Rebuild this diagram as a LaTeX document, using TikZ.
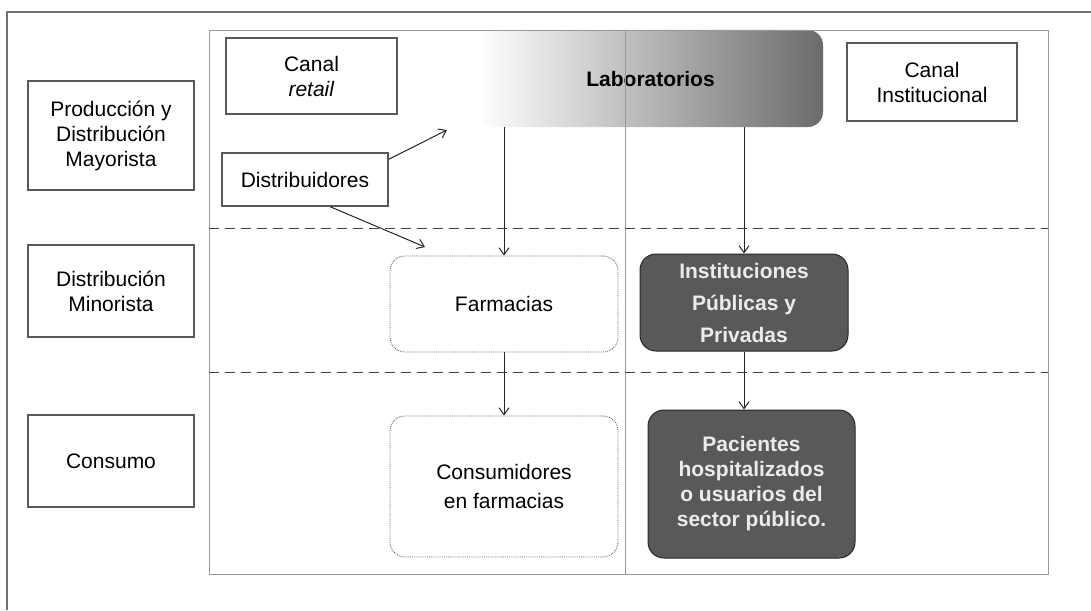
\documentclass[tikz,border=0pt]{standalone}
\usepackage{fontspec}
\setmainfont{Liberation Sans}
\usepackage{xcolor}
\usetikzlibrary{arrows.meta}

\begin{document}
\begin{tikzpicture}[x=1pt, y=-1pt,
    >={Straight Barb[length=7pt,width=10pt]},
    txt/.style={font=\fontsize{21}{25}\selectfont, align=center, inner sep=0pt},
    levelbox/.style={txt, draw=black!65, line width=1.3pt},
    canalbox/.style={txt, draw=black!65, line width=1.3pt},
    softbox/.style={txt, draw=black!60, densely dotted, line width=0.9pt, rounded corners=15pt},
    darkbox/.style={txt, fill=black!65, draw=black!85, line width=1pt, rounded corners=16pt,
        text=white!92!black, font=\fontsize{21}{25}\selectfont\bfseries},
    region/.style={draw=black!40, line width=0.8pt},
    level/.style={draw=black!75, dashed, dash pattern=on 10pt off 6pt, line width=1pt},
    flow/.style={->, draw=black!85, line width=1pt}]
    \useasboundingbox (0,0) rectangle (1091,610);
    % frame
    \draw[black!55, line width=2pt] (7,610) -- (7,12) -- (1091,12);

    \node[txt, minimum width=345pt, minimum height=97pt, rounded corners=15pt,
        left color=white, middle color=black!18, right color=black!58,
        font=\fontsize{21}{25}\selectfont\bfseries]
        (lab) at (650.5,78.5) {Laboratorios};

    % region and levels
    \draw[region] (209,30) rectangle (1048,574);
    \draw[region] (625,30) -- (625,574);
    \draw[level] (209,228) -- (1048,228);
    \draw[level] (209,372) -- (1048,372);

    % levels
    \node[levelbox, minimum width=166pt, minimum height=109pt] (prod) at (111,135.5)
        {Producción y\\Distribución\\Mayorista};
    \node[levelbox, minimum width=166pt, minimum height=92pt] (mino) at (111,291)
        {Distribución\\Minorista};
    \node[levelbox, minimum width=166pt, minimum height=92pt] (cons) at (111,461)
        {Consumo};

    % channels
    \node[canalbox, minimum width=171pt, minimum height=76pt] (retail) at (311.5,76)
        {Canal\\\textit{retail}};
    \node[canalbox, minimum width=170pt, minimum height=78pt] (instit) at (932,82)
        {Canal\\Institucional};
    \node[canalbox, minimum width=166pt, minimum height=53pt] (dist) at (305,179.5)
        {Distribuidores};

    \node[softbox, minimum width=228pt, minimum height=96pt] (farm) at (504,304)
        {Farmacias};
    \node[softbox, minimum width=228pt, minimum height=141pt, font=\fontsize{21}{29}\selectfont]
        (consf) at (504,486.5) {Consumidores\\en farmacias};
    \node[darkbox, minimum width=208pt, minimum height=97pt,
        font=\fontsize{21}{32}\selectfont\bfseries] (pubpriv) at (744,302.5)
        {Instituciones\\Públicas y\\Privadas};
    \node[darkbox, minimum width=207pt, minimum height=148pt, font=\fontsize{21}{25}\selectfont\bfseries]
        (pac) at (751.5,484) {Pacientes\\hospitalizados\\o usuarios del\\sector público.};

    \coordinate (up) at (447,130);
    \coordinate (down) at (425,247);

    \draw[flow] ([yshift=-7pt]dist.north east) -- (up);
    \draw[flow] ([xshift=25pt]dist.south) -- (down);
    \draw[flow] (lab.south -| farm.north) -- (farm.north);
    \draw[flow] (farm.south) -- (consf.north);
    \draw[flow] (lab.south -| pubpriv.north) -- (pubpriv.north);
    \draw[flow] (pubpriv.south) -- (pubpriv.south |- pac.north);
\end{tikzpicture}
\end{document}
